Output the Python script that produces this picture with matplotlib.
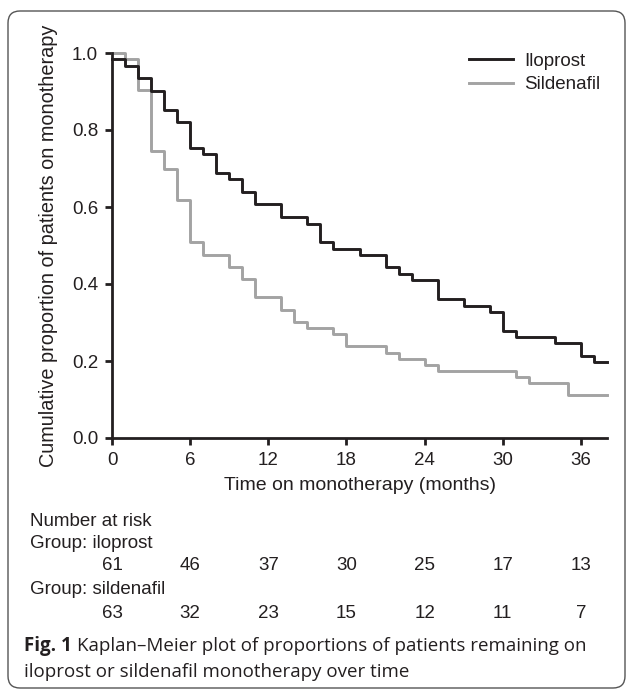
import matplotlib.pyplot as plt
import matplotlib.transforms as mtransforms
from matplotlib.patches import FancyBboxPatch

# ---------------------------
# DATA
# ---------------------------
ilo_times = [0, 1, 2, 3, 4, 5, 6, 7, 8, 9, 10, 11, 13, 15, 16, 17, 19, 21, 22, 23,
             25, 27, 29, 30, 31, 34, 36, 37]
ilo_surv = [0.984, 0.967, 0.934, 0.902, 0.852, 0.820, 0.754, 0.738, 0.689, 0.672,
            0.639, 0.607, 0.574, 0.557, 0.508, 0.492, 0.475, 0.443, 0.426, 0.410,
            0.361, 0.344, 0.328, 0.279, 0.262, 0.246, 0.213, 0.197]

sil_times = [0, 1, 2, 3, 4, 5, 6, 7, 9, 10, 11, 13, 14, 15, 17, 18, 21, 22, 24, 25,
             31, 32, 35]
sil_surv = [1.0, 0.984, 0.905, 0.746, 0.698, 0.619, 0.508, 0.476, 0.444, 0.413,
            0.365, 0.333, 0.302, 0.286, 0.270, 0.238, 0.222, 0.206, 0.190, 0.175,
            0.159, 0.143, 0.111]

end_time = 38
risk_times = [0, 6, 12, 18, 24, 30, 36]
risk_ilo = [61, 46, 37, 30, 25, 17, 13]
risk_sil = [63, 32, 23, 15, 12, 11, 7]

BLACK = "#231f20"
GREY = "#a3a3a3"

plt.rcParams['font.family'] = ['Liberation Sans', 'DejaVu Sans']

fig = plt.figure(figsize=(6.3, 6.91), dpi=100)
W, H = 630, 691

# axes placed in pixel terms (from top-left)
left, right, bottom, top = 112, 607, 438, 53
ax = fig.add_axes([left / W, 1 - bottom / H, (right - left) / W, (bottom - top) / H])

ax.step(sil_times + [end_time], sil_surv + [sil_surv[-1]], where='post',
        color=GREY, lw=2.1, clip_on=False, label="Sildenafil", zorder=2)
ax.step(ilo_times + [end_time], ilo_surv + [ilo_surv[-1]], where='post',
        color=BLACK, lw=2.1, clip_on=False, label="Iloprost", zorder=3)

ax.set_xlim(0, end_time)
ax.set_ylim(0, 1.0)
ax.set_xticks(risk_times)
ax.set_yticks([0.0, 0.2, 0.4, 0.6, 0.8, 1.0])
ax.set_yticklabels(["0.0", "0.2", "0.4", "0.6", "0.8", "1.0"])
for s in ["top", "right"]:
    ax.spines[s].set_visible(False)
for s in ["left", "bottom"]:
    ax.spines[s].set_linewidth(2.0)
    ax.spines[s].set_color(BLACK)
ax.tick_params(direction='out', length=5, width=2.0, color=BLACK,
               labelsize=13.5, labelcolor=BLACK, pad=5)

ax.set_xlabel("Time on monotherapy (months)", fontsize=14, color=BLACK, labelpad=6)
ax.set_ylabel("Cumulative proportion of patients on monotherapy", fontsize=14.3,
              color=BLACK, labelpad=10)

handles, labels = ax.get_legend_handles_labels()
leg = ax.legend(handles[::-1], labels[::-1], loc="upper left",
                bbox_to_anchor=(462 / W, 1 - 45 / H), bbox_transform=fig.transFigure,
                frameon=False, fontsize=13.5, handlelength=2.3, handletextpad=0.6,
                labelspacing=0.35, borderaxespad=0)
for t in leg.get_texts():
    t.set_color(BLACK)

# number at risk table
trans = mtransforms.blended_transform_factory(ax.transData, fig.transFigure)
txt_kw = dict(fontsize=13.5, color=BLACK, va="center")
fig.text(30 / W, 1 - 521 / H, "Number at risk", **txt_kw)
fig.text(30 / W, 1 - 544 / H, "Group: iloprost", **txt_kw)
fig.text(30 / W, 1 - 590 / H, "Group: sildenafil", **txt_kw)
for t, n in zip(risk_times, risk_ilo):
    ax.text(t, 1 - 566 / H, str(n), transform=trans, ha="center", **txt_kw)
for t, n in zip(risk_times, risk_sil):
    ax.text(t, 1 - 613 / H, str(n), transform=trans, ha="center", **txt_kw)

# caption
cap_kw = dict(fontsize=13.5, color=BLACK, va="center", family=["Open Sans", "DejaVu Sans"])
fig_lbl = fig.text(24 / W, 1 - 646 / H, "Fig. 1", fontweight="bold", **cap_kw)
renderer = fig.canvas.get_renderer()
bb = fig_lbl.get_window_extent(renderer=renderer)
fig.text((bb.x1 + 5) / W, 1 - 646 / H,
         "Kaplan\u2013Meier plot of proportions of patients remaining on", **cap_kw)
fig.text(24 / W, 1 - 672 / H, "iloprost or sildenafil monotherapy over time", **cap_kw)

# rounded frame around the figure (display pixels)
frame = FancyBboxPatch((8, H - 688), 617, 677,
                       boxstyle="round,pad=0,rounding_size=12",
                       transform=mtransforms.IdentityTransform(), fill=False,
                       edgecolor="#555555", lw=1.0)
fig.patches.append(frame)

fig.savefig("out.png", dpi=100)
